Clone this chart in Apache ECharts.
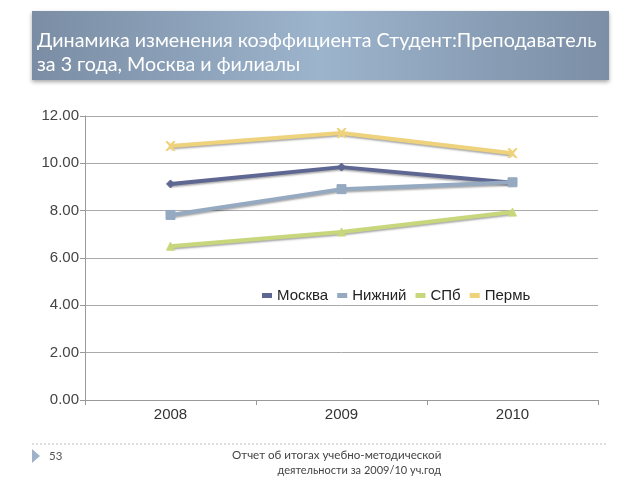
<!DOCTYPE html>
<html><head><meta charset="utf-8">
<script src="https://cdn.jsdelivr.net/npm/echarts@6/dist/echarts.min.js"></script>
<style>html,body{margin:0;padding:0;background:#fff}#c{width:640px;height:480px}</style>
</head><body><div id="c"></div>
<script>
var categories = ['2008', '2009', '2010'];
var moscow = [9.13, 9.84, 9.18];
var nizhny = [7.82, 8.91, 9.20];
var spb = [6.50, 7.10, 7.94];
var perm = [10.73, 11.28, 10.43];
var seriesNames = ['Москва', 'Нижний', 'СПб', 'Пермь'];
var titleLines = ['Динамика изменения коэффициента Студент:Преподаватель', 'за 3 года, Москва и филиалы'];
var footerLines = ['Отчет об итогах учебно-методической', 'деятельности за 2009/10 уч.год'];
var pageNumber = '53';

var chart = echarts.init(document.getElementById('c'), null, {renderer: 'canvas'});
function line(name, data, color, symbol, size) {
  return {
    name: name, type: 'line', data: data, symbol: symbol, symbolSize: size,
    showSymbol: true,
    lineStyle: {color: color, width: 4, shadowColor: 'rgba(0,0,0,0.35)', shadowBlur: 2, shadowOffsetY: 1.5},
    itemStyle: {color: color, borderColor: color},
    emphasis: {disabled: true}, animation: false
  };
}
var xSym = 'path://M0,0 L2,0 L5,3 L8,0 L10,0 L6,5 L10,10 L8,10 L5,7 L2,10 L0,10 L4,5 Z';
chart.setOption({
  animation: false,
  grid: {left: 85, right: 42, top: 116, bottom: 80},
  legend: {
    data: seriesNames, left: 257, top: 283, itemWidth: 10, itemHeight: 5, itemGap: 9,
    textStyle: {fontFamily: 'Liberation Sans, Arial', fontSize: 15, color: '#222'},
    icon: 'rect'
  },
  xAxis: {
    type: 'category', data: categories, boundaryGap: true,
    axisLine: {lineStyle: {color: '#999', width: 1}},
    axisTick: {show: true, length: 5, lineStyle: {color: '#999'}},
    axisLabel: {fontFamily: 'Liberation Sans, Arial', fontSize: 15, color: '#333', margin: 7}
  },
  yAxis: {
    type: 'value', min: 0, max: 12, interval: 2,
    axisLine: {show: true, lineStyle: {color: '#999'}},
    axisTick: {show: true, length: 5, lineStyle: {color: '#999'}},
    splitLine: {lineStyle: {color: '#aaa', width: 1}},
    axisLabel: {fontFamily: 'Liberation Sans, Arial', fontSize: 15, color: '#444', margin: 6,
      formatter: function (v) { return v.toFixed(2); }}
  },
  series: [
    line(seriesNames[0], moscow, '#5d6791', 'diamond', 8),
    line(seriesNames[1], nizhny, '#95a9c1', 'rect', 9),
    line(seriesNames[2], spb, '#c9d77c', 'triangle', 8),
    line(seriesNames[3], perm, '#efd27c', xSym, 9)
  ],
  graphic: [
    {type: 'rect', shape: {x: 32, y: 11, width: 577, height: 69}, z: 10,
      style: {fill: new echarts.graphic.LinearGradient(0, 0, 1, 0, [
        {offset: 0, color: '#7a8da4'}, {offset: 0.5, color: '#9cb4cc'}, {offset: 1, color: '#7b8ea5'}]),
        shadowColor: 'rgba(0,0,0,0.35)', shadowBlur: 4, shadowOffsetY: 2}},
    {type: 'text', left: 37, top: 31, z: 11,
      style: {text: titleLines[0], fill: '#fff', font: '19.7px Lato, "Open Sans", sans-serif'}},
    {type: 'text', left: 37, top: 55, z: 11,
      style: {text: titleLines[1], fill: '#fff', font: '19.7px Lato, "Open Sans", sans-serif'}},
    {type: 'line', shape: {x1: 32, y1: 444, x2: 606, y2: 444}, z: 10,
      style: {stroke: '#bbb', lineWidth: 1, lineDash: [2, 2]}},
    {type: 'polygon', shape: {points: [[32, 449], [32, 463], [40, 456]]}, z: 10,
      style: {fill: '#9fb3c8'}},
    {type: 'text', left: 49, top: 450, z: 11,
      style: {text: pageNumber, fill: '#555', font: '11.5px Lato, sans-serif'}},
    {type: 'text', x: 232, y: 449, z: 11,
      style: {text: footerLines[0], fill: '#444', font: '11.6px Lato, sans-serif', align: 'left'}},
    {type: 'text', x: 441, y: 465, z: 11,
      style: {text: footerLines[1], fill: '#444', font: '11px Lato, sans-serif', align: 'right'}}
  ]
});
</script></body></html>
